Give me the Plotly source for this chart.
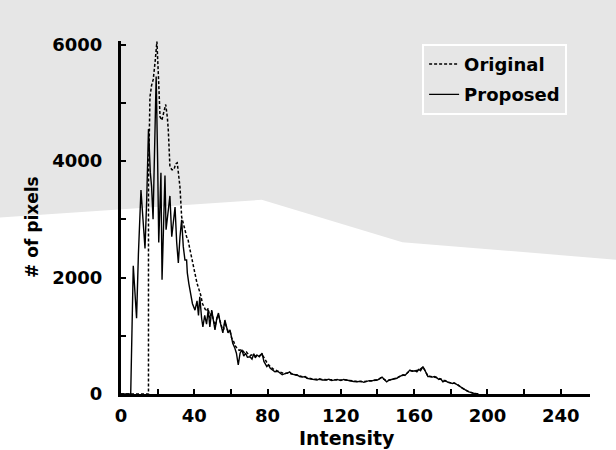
import plotly.graph_objects as go

# ---- data (intensity, number of pixels) ----
proposed_intensity = [0, 5.3, 6.7, 7.6, 8.5, 9.5, 10.9, 12, 13.1, 14, 15, 16, 16.7, 17.5, 18.5, 19.2,
                      20, 20.6, 21.3, 21.8, 22.4, 23.2, 24, 24.6, 25.8, 26.7, 27.7, 28.6, 29.5, 30.4,
                      31.3, 32.2, 33.1, 34, 34.9, 35.8, 36.2, 37, 38, 39, 40.4, 41.5, 42.3, 43, 44,
                      44.7, 45.7, 46.7, 47.6, 48.5, 49.5, 50.5, 51.3, 52.3, 53.2, 54, 55, 55.6, 56.7,
                      57.6, 58.4, 59.5, 60.4, 61, 62, 63, 64, 65, 66, 67, 68, 69, 70.4, 71.5, 72.5,
                      73.3, 74.2, 75.5, 77, 78, 79.6, 80.5, 81.5, 83, 84, 85.5, 87, 88, 89.5, 91, 92,
                      93.5, 95, 96, 97.5, 99, 100.5, 101.5, 103, 105, 107, 108.5, 110, 112, 113.5,
                      115, 117, 118, 120, 121.5, 123, 125, 127, 129, 131, 132.5, 134, 135.5, 137,
                      138.5, 140, 141.5, 142.5, 144, 145, 146.5, 148, 149.5, 150.6, 152, 153, 154,
                      155, 156, 157.7, 159, 160.5, 161.5, 162.5, 163.5, 164.8, 166, 167.5, 168.5,
                      170, 171, 172, 173.5, 174.5, 175.7, 177, 178.5, 179.5, 181, 182, 183, 184, 185,
                      186, 187.5, 189, 190, 192, 195]
proposed_pixels = [0, 0, 2200, 1650, 1300, 2400, 3500, 3000, 2500, 3300, 4550, 3800, 3560, 3000, 4300, 5450,
                   4000, 2600, 3280, 3800, 1960, 3100, 3750, 2820, 3160, 3400, 2700, 2950, 3210, 2600,
                   2250, 2700, 2990, 2530, 2300, 2300, 2080, 1900, 1750, 1550, 1440, 1600, 1350, 1670, 1300,
                   1150, 1350, 1200, 1450, 1150, 1440, 1200, 1100, 1300, 1390, 1250, 1100, 1050, 1270,
                   1150, 1050, 1100, 930, 870, 800, 700, 500, 700, 760, 650, 700, 630, 640, 600, 690,
                   620, 670, 640, 700, 560, 470, 500, 440, 410, 380, 390, 350, 330, 350, 360, 380,
                   340, 330, 330, 300, 290, 300, 270, 260, 250, 240, 260, 240, 240, 255,
                   230, 240, 250, 230, 250, 240, 225, 215, 210, 220, 200, 210, 230, 225,
                   240, 240, 280, 290, 240, 210, 240, 250, 260, 270, 300, 320, 330,
                   320, 360, 410, 390, 400, 380, 420, 400, 470, 400, 300, 300,
                   290, 300, 290, 250, 260, 210, 230, 200, 190, 180, 190, 170, 150, 130,
                   100, 80, 50, 35, 15, 0]

original_intensity = [0, 15, 15, 15.8, 16.7, 17.6, 18.6, 19.6, 20.5, 21.3, 22.3, 23.2, 24.4, 25.3, 25.8,
                      26.7, 27.8, 28.9, 29.8, 30.7, 31.5, 32.2, 33.1, 34, 34.9, 35.8, 36.6, 37.5, 38.5,
                      39.5, 40.5, 41.5, 42.5, 43.5, 44.5, 45.5, 46.5, 47.6, 48.5, 49.5, 50.5, 51.5, 52.3,
                      53.2, 54, 55, 56, 56.7, 57.6, 58.4, 59.5, 60.4, 61.5, 62.5, 63.5, 64.5, 65.5, 66.5,
                      67.5, 68.5, 69.5, 70.5, 72, 73.5, 75, 77, 78.5, 80, 81.5, 83, 85, 87, 89, 91, 93,
                      95, 97.5, 100, 102, 105, 108, 111, 114, 117, 120, 123, 126, 129, 132, 135, 138,
                      140, 142, 144, 146, 148, 150.6, 153, 155, 157.7, 160, 162.5, 164.8, 166, 167.5,
                      170, 172, 174.5, 177, 179.5, 182, 184, 186, 188, 190, 192, 195]
original_pixels = [0, 0, 3600, 5100, 5300, 5400, 5700, 6050, 5400, 4760, 4700, 4800, 4970, 4750, 4540,
                   3900, 3850, 3850, 3950, 3970, 3700, 3550, 3040, 2950, 2820, 2700, 2650, 2500, 2350,
                   2200, 2000, 1900, 1800, 1700, 1550, 1480, 1420, 1470, 1300, 1420, 1250, 1180, 1300,
                   1350, 1260, 1150, 1100, 1230, 1150, 1080, 1080, 960, 900, 820, 780, 750, 760, 740,
                   700, 720, 680, 660, 680, 650, 650, 680, 600, 520, 470, 430, 400, 370, 350, 360, 350,
                   330, 310, 290, 270, 255, 250, 245, 250, 240, 240, 240, 225, 215, 210, 220, 235,
                   240, 280, 245, 235, 250, 275, 315, 325, 400, 395, 410, 460, 400, 310,
                   295, 285, 255, 225, 195, 185, 155, 105, 70, 38, 18, 0]

x_tick_vals = [0, 20, 40, 60, 80, 100, 120, 140, 160, 180, 200, 220, 240]
x_tick_text = ["0", "", "40", "", "80", "", "120", "", "160", "", "200", "", "240"]
y_tick_vals = [0, 1000, 2000, 3000, 4000, 5000, 6000]
y_tick_text = ["0", "", "2000", "", "4000", "", "6000"]

FONT = "DejaVu Sans"

fig = go.Figure()
fig.add_trace(go.Scatter(
    x=original_intensity, y=original_pixels, mode="lines", name="Original",
    legendgroup="a",
    line=dict(color="black", width=1.5, dash="3px,2px"),
))
fig.add_trace(go.Scatter(
    x=proposed_intensity, y=proposed_pixels, mode="lines", name="Proposed",
    legendgroup="b",
    line=dict(color="black", width=1.4),
))

axis_common = dict(
    showline=True, linecolor="black", linewidth=3,
    ticks="inside", ticklen=5, tickwidth=2, tickcolor="black",
    showgrid=False, zeroline=False,
    tickfont=dict(family=FONT, size=18, color="black", weight="bold"),
)

fig.update_layout(
    width=616, height=450, autosize=False,
    margin=dict(l=121, r=26, t=41, b=56),
    paper_bgcolor="white",
    plot_bgcolor="rgba(0,0,0,0)",
    font=dict(family=FONT, color="black"),
    xaxis=dict(range=[0, 256], tickmode="array", tickvals=x_tick_vals, ticktext=x_tick_text,
               ticklabelstandoff=3, **axis_common),
    yaxis=dict(range=[0, 6060], tickmode="array", tickvals=y_tick_vals, ticktext=y_tick_text,
               ticklabelstandoff=12, **axis_common),
    legend=dict(
        x=0.642, y=0.992, xanchor="left", yanchor="top",
        bgcolor="rgba(0,0,0,0)", bordercolor="white", borderwidth=2,
        font=dict(family=FONT, size=18, color="black", weight="bold"),
        traceorder="grouped", tracegroupgap=4,
    ),
    annotations=[
        dict(text="Intensity", xref="paper", yref="paper", x=0.482, y=-0.124,
             xanchor="center", yanchor="middle", showarrow=False,
             font=dict(family=FONT, size=19, color="black", weight="bold")),
        dict(text="# of pixels", xref="paper", yref="paper", x=-0.19, y=0.473,
             xanchor="center", yanchor="middle", textangle=-90, showarrow=False,
             font=dict(family=FONT, size=17, color="black", weight="bold")),
    ],
    shapes=[
        dict(type="path", xref="paper", yref="paper", layer="below",
             path="M -0.26 1.117 L 1.06 1.117 L 1.06 0.38 L 0.6 0.43 L 0.3 0.55 L -0.26 0.5 Z",
             fillcolor="#e6e6e6", line=dict(width=0)),
    ],
)

fig.write_html("out.html", config={"displayModeBar": False},
               post_script="document.body.style.margin='0';")
